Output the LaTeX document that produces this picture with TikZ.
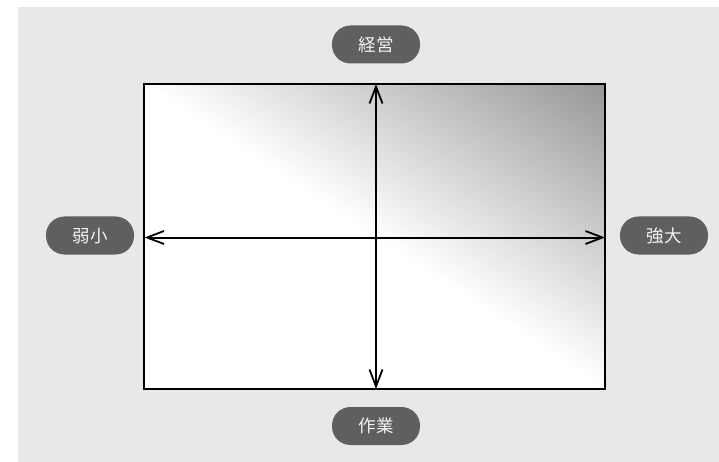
\documentclass[tikz,border=0pt]{standalone}
\usepackage{fontspec}
\newfontfamily\cjk{Noto Sans CJK JP}
\usetikzlibrary{arrows.meta}
\definecolor{bggray}{HTML}{E8E8E8}
\definecolor{pillgray}{HTML}{5F5F5F}
\definecolor{pilltext}{HTML}{F2F2F2}
\definecolor{cornergray}{HTML}{979797}
\tikzset{
  pill/.style={fill=pillgray, text=pilltext, rounded corners=18.5pt, minimum width=88pt, minimum height=38pt, inner sep=0pt, font=\cjk\fontsize{17.5}{17.5}\selectfont},
  axisarrow/.style={line width=2pt, {Straight Barb[length=17pt,width=13pt,line width=1.8pt]}-{Straight Barb[length=17pt,width=13pt,line width=1.8pt]}},
  framebox/.style={draw=black, line width=2pt, minimum width=461pt, minimum height=305pt, inner sep=0pt}
}
\begin{document}
\begin{tikzpicture}[x=1pt,y=-1pt]
\useasboundingbox (0,0) rectangle (719,462);
\fill[bggray] (18,7) rectangle (719,462);
% gradient fill of the frame
\begin{scope}
  \clip (144.5,84) rectangle (605,389);
  \fill[white] (144.5,84) rectangle (605,389);
  \begin{scope}[transform canvas={shift={(374.75,236.5)}, rotate=56.5}]
    \shade[left color=white, right color=cornergray] (0,-420) rectangle (254.5,420);
  \end{scope}
\end{scope}
\node[framebox] (frame) at (374.75,236.5) {};
\coordinate (hl) at (144.5,237.5);
\coordinate (hr) at (605,237.5);
\coordinate (vt) at (376,84);
\coordinate (vb) at (376,389);
\draw[axisarrow] (hl) -- (hr);
\draw[axisarrow] (vt) -- (vb);
\node[pill] (top) at (376,44.5) {経営};
\node[pill] (bottom) at (376,426) {作業};
\node[pill] (left) at (90,235.5) {弱小};
\node[pill] (right) at (664,235.5) {強大};
\end{tikzpicture}
\end{document}
